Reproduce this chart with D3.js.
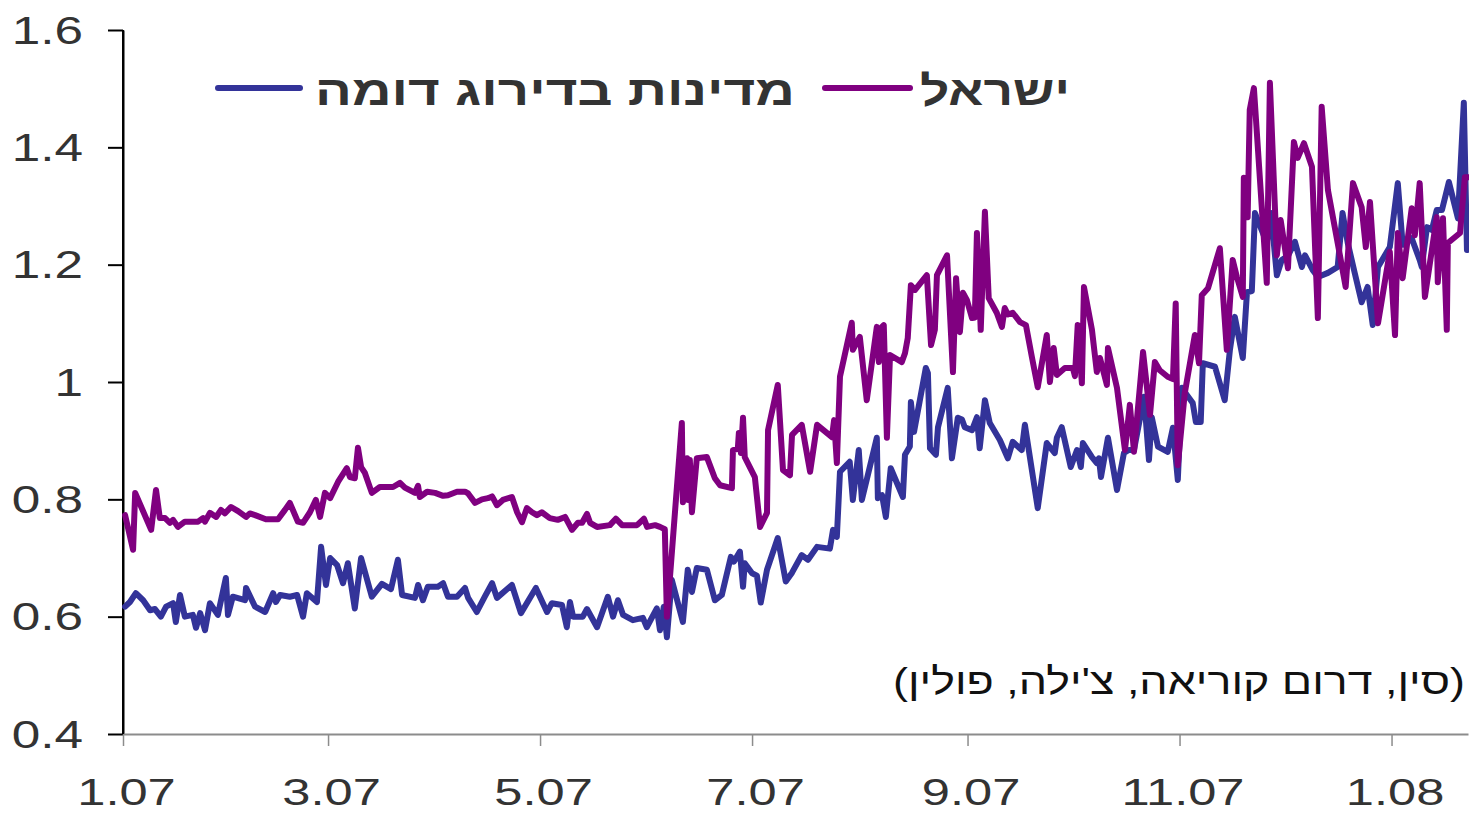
<!DOCTYPE html>
<html><head><meta charset="utf-8">
<script src="https://cdn.jsdelivr.net/npm/d3@7/dist/d3.min.js"></script>
<style>body{margin:0;background:#fff}svg{display:block;background:#fff}</style>
</head><body><svg id="c" width="1469" height="814"></svg>
<script>
// ---- data ----
const yTicks = [0.4, 0.6, 0.8, 1.0, 1.2, 1.4, 1.6];
const xTickDates = ["2007-01-01","2007-03-01","2007-05-01","2007-07-01","2007-09-01","2007-11-01","2008-01-01"];
const xTickLabels = ["1.07","3.07","5.07","7.07","9.07","11.07","1.08"];
const periodStart = "2007-01-01";
const periodEnd = "2008-01-23";
const seriesNames = ["ישראל", "מדינות בדירוג דומה"];
const note = "(סין, דרום קוריאה, צ'ילה, פולין)";

// days since 1 Jan 2007
const israelDay = [0.6,2.9,3.5,8.1,9.5,10.6,12.1,13.5,14.4,15.8,17.8,21.6,23.0,23.6,25.0,26.8,28.2,29.3,31.1,33.1,35.4,36.5,38.0,41.1,44.6,46.6,48.0,50.3,51.8,53.8,55.5,56.7,58.1,59.6,61.9,64.4,65.3,66.7,67.6,68.5,69.6,71.6,73.9,77.7,79.7,81.1,84.0,84.9,85.4,87.5,89.8,92.1,93.5,96.1,98.4,99.3,101.3,103.3,105.0,106.2,107.6,109.3,111.9,113.4,114.8,116.2,117.7,119.1,120.5,122.8,125.1,127.2,129.2,130.9,132.1,133.5,134.4,136.4,140.1,141.8,143.6,147.9,149.9,150.8,153.1,154.5,155.9,156.5,160.8,161.1,162.3,162.6,163.1,163.7,165.1,168.0,170.3,171.8,175.2,175.5,176.9,177.2,177.8,178.4,178.9,181.8,183.3,185.3,185.6,188.4,189.9,191.9,192.5,195.3,197.7,199.7,204.0,204.6,205.4,206.3,209.7,210.0,212.0,214.0,216.9,217.5,218.4,218.9,219.8,220.7,224.1,225.0,225.8,226.7,227.9,231.3,232.5,233.6,234.2,237.1,238.8,239.7,240.8,241.7,242.8,244.3,245.1,245.7,246.8,248.0,249.1,251.4,252.9,253.7,254.6,256.0,258.1,259.8,261.5,263.2,265.8,266.7,267.8,268.7,271.0,273.3,273.9,274.7,275.9,276.5,278.8,280.2,281.1,283.1,283.4,286.0,288.3,289.7,290.9,293.5,295.5,296.9,298.3,300.6,302.1,302.9,303.5,305.5,308.4,309.6,310.4,312.2,315.6,317.6,319.3,320.5,322.2,322.5,323.6,324.2,325.4,329.1,330.0,332.0,333.1,335.2,336.9,338.0,339.8,342.1,343.8,344.9,346.7,349.5,351.8,353.9,356.4,357.6,358.8,361.1,364.5,366.0,366.8,368.2,370.8,371.7,373.1,374.6,378.0,378.3,379.8,380.9,381.2,384.7,386.1,387.0];
const israelValue = [0.773,0.714,0.811,0.748,0.816,0.768,0.768,0.760,0.765,0.753,0.762,0.762,0.768,0.762,0.777,0.770,0.782,0.776,0.787,0.780,0.770,0.776,0.773,0.766,0.766,0.782,0.794,0.762,0.760,0.778,0.799,0.770,0.811,0.802,0.830,0.853,0.838,0.836,0.888,0.855,0.845,0.811,0.821,0.821,0.828,0.820,0.811,0.823,0.804,0.813,0.811,0.806,0.807,0.813,0.813,0.810,0.794,0.800,0.802,0.805,0.790,0.799,0.804,0.778,0.761,0.785,0.778,0.773,0.778,0.768,0.765,0.770,0.748,0.760,0.760,0.775,0.760,0.753,0.756,0.767,0.756,0.756,0.767,0.753,0.756,0.753,0.749,0.600,0.930,0.795,0.870,0.799,0.867,0.778,0.870,0.872,0.836,0.824,0.819,0.884,0.886,0.913,0.879,0.939,0.872,0.838,0.753,0.777,0.918,0.995,0.850,0.841,0.910,0.927,0.847,0.927,0.906,0.935,0.862,1.009,1.101,1.055,1.077,0.969,1.094,1.034,1.094,1.097,0.905,1.046,1.034,1.049,1.075,1.165,1.157,1.182,1.063,1.089,1.182,1.216,1.017,1.177,1.085,1.152,1.140,1.109,1.110,1.254,1.089,1.290,1.143,1.118,1.094,1.126,1.115,1.118,1.102,1.097,1.043,0.991,1.080,1.000,1.058,1.012,1.024,1.024,1.010,1.097,0.998,1.162,1.089,1.017,1.041,0.995,1.058,0.990,0.884,0.961,0.881,1.051,0.944,1.034,1.020,1.009,1.005,1.134,0.858,0.981,1.080,1.032,1.148,1.160,1.228,1.055,1.208,1.179,1.145,1.348,1.281,1.464,1.501,1.169,1.510,1.216,1.276,1.194,1.409,1.382,1.407,1.367,1.109,1.469,1.327,1.237,1.162,1.339,1.298,1.230,1.307,1.100,1.222,1.080,1.254,1.177,1.296,1.250,1.339,1.145,1.281,1.170,1.279,1.089,1.237,1.254,1.349,1.349];

const peerDay = [0.6,2.0,3.7,5.8,7.8,9.2,10.9,12.4,14.4,15.2,16.4,17.8,20.1,21.0,22.2,23.6,25.0,27.3,29.6,30.2,31.6,35.1,35.4,38.0,40.9,43.2,44.0,45.2,48.0,50.1,51.8,52.9,55.8,57.0,58.4,59.6,61.6,63.3,64.7,66.7,68.5,71.6,74.5,77.1,79.1,80.3,84.0,84.9,86.3,87.7,90.6,92.1,93.5,96.1,98.4,99.3,101.8,104.1,106.2,107.6,111.9,114.5,118.8,122.0,123.4,126.3,127.7,128.6,129.5,132.3,133.5,136.4,139.5,141.0,142.4,143.9,146.7,149.6,150.7,153.6,154.5,155.6,156.5,157.9,161.1,162.5,163.7,165.1,168.0,170.3,172.3,174.9,175.8,177.5,178.4,178.9,181.0,182.4,183.5,185.3,188.4,190.7,192.5,195.3,197.1,199.7,203.4,204.3,205.4,206.3,209.1,210.0,211.7,212.6,216.9,217.2,218.4,219.5,220.9,224.4,225.0,226.4,226.7,227.6,231.0,231.6,232.2,233.9,234.5,237.3,238.5,240.2,241.4,242.2,244.3,245.7,246.5,248.0,249.4,252.3,254.6,256.0,258.6,259.5,263.2,265.8,267.0,268.1,268.7,270.1,272.7,274.5,275.6,276.2,278.8,280.2,280.8,281.4,283.4,286.0,288.0,289.4,290.9,293.8,295.2,296.0,297.8,300.6,302.1,303.5,304.7,306.1,307.8,308.7,310.1,310.7,314.2,317.0,318.5,319.9,322.2,323.4,324.8,325.7,329.1,330.3,332.0,333.4,335.2,337.2,339.2,340.1,342.4,343.8,346.7,349.5,350.9,352.4,354.4,356.4,358.1,359.6,361.1,364.5,366.8,368.2,370.8,373.1,373.7,375.2,376.6,378.0,379.5,381.5,384.1,385.8,386.7];
const peerValue = [0.617,0.625,0.640,0.628,0.611,0.613,0.600,0.617,0.623,0.591,0.637,0.600,0.603,0.581,0.606,0.577,0.623,0.603,0.666,0.603,0.634,0.628,0.649,0.617,0.608,0.640,0.625,0.637,0.634,0.637,0.600,0.640,0.625,0.719,0.654,0.700,0.688,0.657,0.691,0.614,0.700,0.634,0.656,0.647,0.697,0.637,0.632,0.654,0.628,0.651,0.651,0.657,0.634,0.634,0.649,0.632,0.608,0.634,0.657,0.632,0.654,0.606,0.649,0.608,0.623,0.620,0.582,0.625,0.600,0.600,0.613,0.582,0.634,0.600,0.628,0.603,0.594,0.598,0.582,0.614,0.577,0.617,0.565,0.663,0.591,0.680,0.642,0.683,0.680,0.628,0.637,0.702,0.694,0.711,0.651,0.691,0.674,0.670,0.624,0.680,0.734,0.660,0.675,0.705,0.697,0.719,0.716,0.748,0.736,0.847,0.864,0.799,0.884,0.799,0.905,0.802,0.807,0.770,0.853,0.804,0.876,0.890,0.966,0.915,1.024,1.015,0.887,0.876,0.923,0.990,0.870,0.939,0.936,0.923,0.918,0.940,0.887,0.969,0.930,0.901,0.870,0.898,0.884,0.927,0.785,0.896,0.887,0.879,0.905,0.923,0.855,0.884,0.855,0.896,0.872,0.862,0.870,0.838,0.905,0.816,0.879,0.884,0.884,0.975,0.867,0.940,0.890,0.881,0.922,0.833,0.990,0.978,0.964,0.932,0.932,1.032,1.026,0.969,1.055,1.111,1.041,1.153,1.155,1.288,1.237,1.288,1.182,1.208,1.215,1.239,1.196,1.216,1.190,1.179,1.186,1.196,1.288,1.237,1.186,1.136,1.162,1.097,1.196,1.230,1.339,1.234,1.245,1.208,1.196,1.264,1.259,1.293,1.293,1.341,1.279,1.476,1.225];

// ---- chart ----
const W = 1469, H = 814;
const M = {left: 123, right: 1, top: 30, bottom: 80};
const parse = d3.timeParse("%Y-%m-%d");
const start = parse(periodStart);
const toDate = d => new Date(start.getTime() + d * 864e5);

const svg = d3.select("#c");
const x = d3.scaleTime().domain([start, parse(periodEnd)]).range([M.left, W - M.right]);
const y = d3.scaleLinear().domain([0.4, 1.6]).range([H - M.bottom, M.top]);

const SX = 1.35; // horizontal stretch of the lettering
const FONT = "'Liberation Sans', Arial, sans-serif";

// y axis
const yAxis = svg.append("g").attr("transform", `translate(${M.left},0)`)
  .call(d3.axisLeft(y).tickValues(yTicks).tickSize(15).tickSizeOuter(0)
    .tickFormat(d => String(+d.toFixed(1))));
yAxis.select(".domain").attr("stroke", "#000").attr("stroke-width", 2);
yAxis.selectAll(".tick line").attr("stroke", "#000").attr("stroke-width", 2);
yAxis.selectAll(".tick text")
  .attr("x", -40 / SX).attr("dy", "0.35em").attr("transform", `scale(${SX},1)`)
  .attr("fill", "#333").attr("font-size", 38).attr("font-family", FONT);

// x axis
const xAxis = svg.append("g").attr("transform", `translate(0,${H - M.bottom})`)
  .call(d3.axisBottom(x).tickValues(xTickDates.map(parse)).tickSize(12).tickSizeOuter(0)
    .tickFormat((d, i) => xTickLabels[i]));
xAxis.select(".domain").attr("stroke", "#8c8c8c").attr("stroke-width", 2);
xAxis.selectAll(".tick line").attr("stroke", "#8c8c8c").attr("stroke-width", 1.5);
xAxis.selectAll(".tick text")
  .attr("y", 71).attr("dy", null).attr("x", 3 / SX).attr("transform", `scale(${SX},1)`)
  .attr("fill", "#333").attr("font-size", 37.5).attr("font-family", FONT);
// y domain drawn again over the x axis start
svg.append("line").attr("x1", M.left).attr("x2", M.left).attr("y1", y(1.6)).attr("y2", y(0.4))
  .attr("stroke", "#000").attr("stroke-width", 2);

// lines
const line = d3.line().x(d => x(toDate(d[0]))).y(d => y(d[1]));
const peers = peerDay.map((d, i) => [d, peerValue[i]]);
const israel = israelDay.map((d, i) => [d, israelValue[i]]);
const plot = svg.append("g");
plot.append("path").datum(peers).attr("d", line).attr("fill", "none")
  .attr("stroke", "#333399").attr("stroke-width", 6).attr("stroke-linejoin", "round").attr("stroke-linecap", "round");
plot.append("path").datum(israel).attr("d", line).attr("fill", "none")
  .attr("stroke", "#800080").attr("stroke-width", 6).attr("stroke-linejoin", "round").attr("stroke-linecap", "round");

// legend
const leg = svg.append("g");
const legItems = [
  {name: seriesNames[0], color: "#800080", lx1: 825, lx2: 910, tx: 995, tw: 150},
  {name: seriesNames[1], color: "#333399", lx1: 218, lx2: 300, tx: 555, tw: 480}
];
legItems.forEach(it => {
  leg.append("line").attr("x1", it.lx1).attr("x2", it.lx2).attr("y1", 88).attr("y2", 88)
    .attr("stroke", it.color).attr("stroke-width", 6).attr("stroke-linecap", "round");
  leg.append("text").attr("x", it.tx).attr("y", 105).attr("text-anchor", "middle")
    .attr("direction", "rtl").attr("font-family", FONT).attr("font-weight", "bold")
    .attr("font-size", 42).attr("fill", "#333")
    .attr("textLength", it.tw).attr("lengthAdjust", "spacingAndGlyphs").text(it.name);
});

// note
svg.append("text").attr("x", 1179).attr("y", 694).attr("text-anchor", "middle")
  .attr("direction", "rtl").attr("font-family", FONT).attr("font-size", 37).attr("fill", "#111")
  .attr("textLength", 572).attr("lengthAdjust", "spacingAndGlyphs").text(note);
</script></body></html>
